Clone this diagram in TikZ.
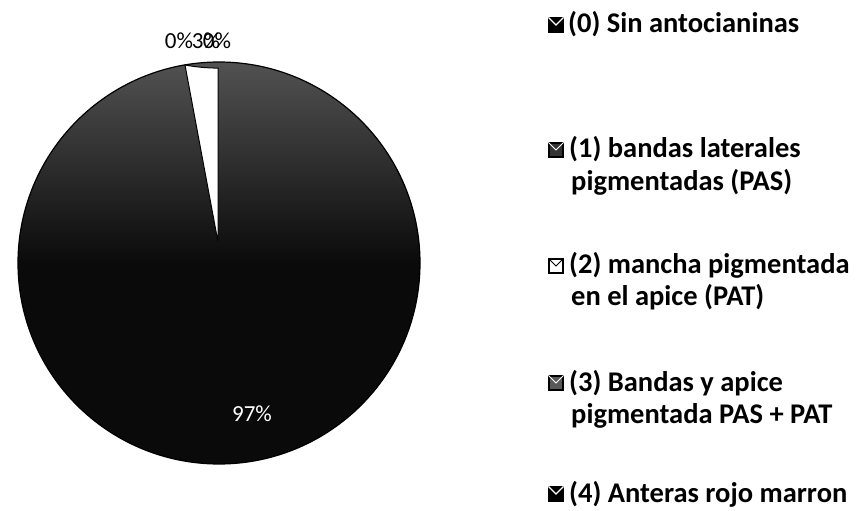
\documentclass[tikz,border=0pt]{standalone}
\usepackage{fontspec}
\setmainfont{Carlito}
\begin{document}
\begin{tikzpicture}[x=1bp,y=-1bp,
  legtext/.style={anchor=base west,inner sep=0pt,font=\bfseries\fontsize{28.5bp}{33bp}\selectfont,text=black},
  pct/.style={inner sep=0pt,font=\fontsize{23bp}{26bp}\selectfont},
  keybox/.style={draw=black,line width=1.2bp,minimum width=14bp,minimum height=14bp,inner sep=0pt}]
\useasboundingbox (0,0) rectangle (858,511);
% pie
\coordinate (c) at (219,263);
\shade[top color=black!68,bottom color=black!96,middle color=black!96]
  (c) circle[radius=201];
\draw[black,line width=1.2bp] (c) circle[radius=201];
% exploded small slice
\coordinate (apex) at (218,242);
\filldraw[fill=white,draw=black,line width=1bp] (apex) -- (185,65) arc[start angle=100.6,end angle=90,radius=180] -- cycle;
% labels
\node[pct] (p0) at (179,41) {0\%};
\node[pct] (p3) at (206,41) {3\%};
\node[pct] (p4) at (217,41) {0\%};
\node[pct,text=white] (p97) at (252,414) {97\%};
% legend
\foreach \n/\y in {0/25,1/150,2/266,3/383,4/494}{
  \coordinate (k\n) at (556,\y);
}
\node[keybox,fill=black] (b0) at (k0) {};
\node[keybox,fill=black!80] (b1) at (k1) {};
\node[keybox,fill=white] (b2) at (k2) {};
\node[keybox,fill=black!65] (b3) at (k3) {};
\node[keybox,fill=black] (b4) at (k4) {};
\draw[white,line width=1.2bp] (b0.north west) -- (b0.center) -- (b0.north east);
\draw[white,line width=1.2bp] (b4.north west) -- (b4.center) -- (b4.north east);
\draw[white,line width=1bp] (b1.north west) -- (b1.center) -- (b1.north east);
\draw[black,line width=1bp] (b2.north west) -- (b2.center) -- (b2.north east);
\draw[white,line width=1bp] (b3.north west) -- (b3.center) -- (b3.north east);
\node[legtext] (t0) at (568,33) {(0) Sin antocianinas};
\node[legtext] (t1) at (569,158) {(1) bandas laterales};
\node[legtext] (t1b) at (571,191) {pigmentadas (PAS)};
\node[legtext] (t2) at (569,274) {(2) mancha pigmentada};
\node[legtext] (t2b) at (571,306) {en el apice (PAT)};
\node[legtext] (t3) at (569,391) {(3) Bandas y apice};
\node[legtext] (t3b) at (571,423) {pigmentada PAS + PAT};
\node[legtext] (t4) at (569,502) {(4) Anteras rojo marron};
\end{tikzpicture}
\end{document}
